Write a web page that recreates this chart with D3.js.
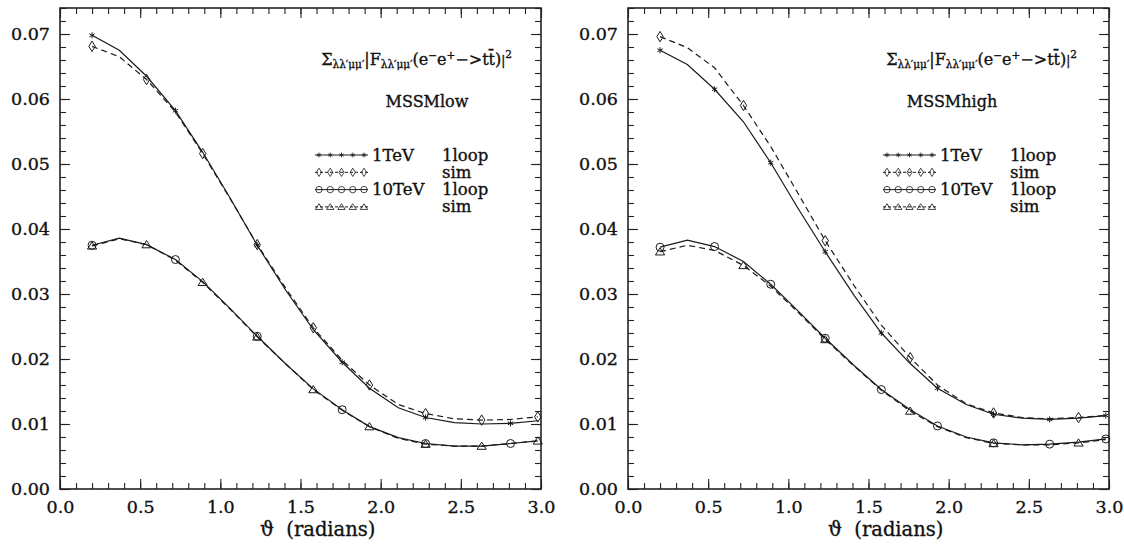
<!DOCTYPE html>
<html>
<head>
<meta charset="utf-8">
<script src="https://cdn.jsdelivr.net/npm/d3@7"></script>
<style>
body { margin: 0; background: #fff; }
svg { display: block; }
text { font-family: "DejaVu Serif", serif; fill: #111; stroke: #111; stroke-width: 0.35px; }
</style>
</head>
<body>
<svg id="chart" width="1124" height="544"></svg>
<script>
// scattering angle (radians)
const theta = [0.2, 0.37, 0.54, 0.72, 0.89, 1.06, 1.23, 1.41, 1.58, 1.76, 1.93, 2.11, 2.28, 2.46, 2.63, 2.81, 2.98];

// MSSMlow
const low1TeVLoop  = [0.0698, 0.0675, 0.0635, 0.0582, 0.0518, 0.0448, 0.0375, 0.0305, 0.0245, 0.0195, 0.0155, 0.0125, 0.0110, 0.0102, 0.0100, 0.0101, 0.0105];
const low1TeVSim   = [0.0681, 0.0665, 0.0630, 0.0580, 0.0516, 0.0447, 0.0376, 0.0308, 0.0248, 0.0198, 0.0160, 0.0130, 0.0116, 0.0108, 0.0106, 0.0107, 0.0111];
const low10TeVLoop = [0.0375, 0.0386, 0.0376, 0.0353, 0.0319, 0.0278, 0.0235, 0.0192, 0.0154, 0.0122, 0.0096, 0.0079, 0.0070, 0.0066, 0.0066, 0.0070, 0.0074];
const low10TeVSim  = [0.0374, 0.0385, 0.0376, 0.0352, 0.0318, 0.0277, 0.0234, 0.0192, 0.0153, 0.0121, 0.0096, 0.0078, 0.0069, 0.0066, 0.0066, 0.0070, 0.0074];

// MSSMhigh
const high1TeVLoop  = [0.0675, 0.0653, 0.0615, 0.0565, 0.0502, 0.0432, 0.0365, 0.0298, 0.0240, 0.0193, 0.0155, 0.0130, 0.0115, 0.0109, 0.0107, 0.0109, 0.0113];
const high1TeVSim   = [0.0696, 0.0679, 0.0648, 0.0590, 0.0527, 0.0455, 0.0382, 0.0313, 0.0252, 0.0202, 0.0160, 0.0131, 0.0117, 0.0110, 0.0108, 0.0110, 0.0113];
const high10TeVLoop = [0.0372, 0.0383, 0.0373, 0.0350, 0.0315, 0.0274, 0.0232, 0.0190, 0.0153, 0.0122, 0.0097, 0.0080, 0.0071, 0.0068, 0.0069, 0.0072, 0.0077];
const high10TeVSim  = [0.0365, 0.0375, 0.0367, 0.0344, 0.0312, 0.0272, 0.0230, 0.0189, 0.0152, 0.0120, 0.0096, 0.0079, 0.0070, 0.0068, 0.0068, 0.0071, 0.0076];

// which points carry a marker
const everyThird = [0, 3, 6, 9, 12, 15];
const everySecond = [0, 2, 4, 6, 8, 10, 12, 14, 16];

const legendEnergy = ['1TeV', '', '10TeV', ''];
const legendKind = ['1loop', 'sim', '1loop', 'sim'];

const xMajor = [0, 0.5, 1.0, 1.5, 2.0, 2.5, 3.0];
const yMajor = [0, 0.01, 0.02, 0.03, 0.04, 0.05, 0.06, 0.07];

const svg = d3.select('#chart');
const plotW = 481;
const yTop = 8, yBottom = 489;

const symbolPath = (type) => {
    if (type === 'star') return d3.symbol(d3.symbolAsterisk, 26)();
    if (type === 'diamond') return 'M0,-5.2L3.2,0L0,5.2L-3.2,0Z';
    if (type === 'circle') return 'M4,0A4,4 0 1,1 -4,0A4,4 0 1,1 4,0Z';
    return 'M0,-4L4.6,3.2L-4.6,3.2Z';
};

const panels = [
    {
        x0: 60, name: 'MSSMlow', nameX: 427, titleEnd: 512,
        series: [
            { vals: low1TeVLoop, sym: 'star', dash: null, marks: everyThird },
            { vals: low1TeVSim, sym: 'diamond', dash: '6,4', marks: everySecond },
            { vals: low10TeVLoop, sym: 'circle', dash: null, marks: everyThird },
            { vals: low10TeVSim, sym: 'triangle', dash: '6,4', marks: everySecond }
        ]
    },
    {
        x0: 628, name: 'MSSMhigh', nameX: 952, titleEnd: 1077,
        series: [
            { vals: high1TeVLoop, sym: 'star', dash: null, marks: everySecond },
            { vals: high1TeVSim, sym: 'diamond', dash: '6,4', marks: everyThird },
            { vals: high10TeVLoop, sym: 'circle', dash: null, marks: everySecond },
            { vals: high10TeVSim, sym: 'triangle', dash: '6,4', marks: everyThird }
        ]
    }
];

panels.forEach(p => {
    const x = d3.scaleLinear().domain([0, 3]).range([p.x0, p.x0 + plotW]);
    const y = d3.scaleLinear().domain([0, 0.074]).range([yBottom, yTop]);
    const g = svg.append('g');

    const xMinor = d3.range(0, 3.001, 0.1);
    const yMinor = d3.range(0, 0.0741, 0.002);

    const styleAxis = sel => {
        sel.select('.domain').remove();
        sel.selectAll('line').attr('stroke', '#222').attr('stroke-width', 1.1);
        sel.selectAll('text').style('font-size', '17.5px').attr('fill', '#111');
    };

    // bottom
    g.append('g').attr('transform', 'translate(0,' + yBottom + ')')
        .call(d3.axisBottom(x).tickValues(xMinor).tickSize(-6).tickFormat(''))
        .call(styleAxis);
    g.append('g').attr('transform', 'translate(0,' + yBottom + ')')
        .call(d3.axisBottom(x).tickValues(xMajor).tickSize(-10).tickPadding(12).tickFormat(d3.format('.1f')))
        .call(styleAxis);
    // top
    g.append('g').attr('transform', 'translate(0,' + yTop + ')')
        .call(d3.axisTop(x).tickValues(xMinor).tickSize(-6).tickFormat(''))
        .call(styleAxis);
    g.append('g').attr('transform', 'translate(0,' + yTop + ')')
        .call(d3.axisTop(x).tickValues(xMajor).tickSize(-10).tickFormat(''))
        .call(styleAxis);
    // left
    g.append('g').attr('transform', 'translate(' + p.x0 + ',0)')
        .call(d3.axisLeft(y).tickValues(yMinor).tickSize(-6).tickFormat(''))
        .call(styleAxis);
    g.append('g').attr('transform', 'translate(' + p.x0 + ',0)')
        .call(d3.axisLeft(y).tickValues(yMajor).tickSize(-10).tickPadding(10).tickFormat(d3.format('.2f')))
        .call(styleAxis);
    // right
    g.append('g').attr('transform', 'translate(' + (p.x0 + plotW) + ',0)')
        .call(d3.axisRight(y).tickValues(yMinor).tickSize(-6).tickFormat(''))
        .call(styleAxis);
    g.append('g').attr('transform', 'translate(' + (p.x0 + plotW) + ',0)')
        .call(d3.axisRight(y).tickValues(yMajor).tickSize(-10).tickFormat(''))
        .call(styleAxis);

    g.append('rect')
        .attr('x', p.x0).attr('y', yTop)
        .attr('width', plotW).attr('height', yBottom - yTop)
        .attr('fill', 'none').attr('stroke', '#222').attr('stroke-width', 1.6);

    const line = d3.line()
        .x((d, i) => x(theta[i]))
        .y(d => y(d));

    p.series.forEach(s => {
        g.append('path')
            .attr('d', line(s.vals))
            .attr('fill', 'none')
            .attr('stroke', '#1a1a1a')
            .attr('stroke-width', 1.2)
            .attr('stroke-dasharray', s.dash);
        g.selectAll(null)
            .data(s.marks)
            .enter()
            .append('path')
            .attr('d', symbolPath(s.sym))
            .attr('transform', i => 'translate(' + x(theta[i]) + ',' + y(s.vals[i]) + ')')
            .attr('fill', 'none')
            .attr('stroke', '#1a1a1a')
            .attr('stroke-width', 1);
    });

    // title formula
    const t = g.append('text')
        .attr('x', p.titleEnd).attr('y', 65)
        .attr('text-anchor', 'end')
        .style('font-size', '16px');
    const parts = [
        ['Σ', 0, 16], ['λλ′μμ′', 3, 10.5], ['|F', -3, 16], ['λλ′μμ′', 3, 10.5],
        ['(e', -3, 16], ['−', -6, 10.5], ['e', 6, 16], ['+', -6, 10.5],
        ['−>tt̄)', 6, 16], ['|', 0, 12], ['2', -7, 10.5]
    ];
    parts.forEach(d => {
        t.append('tspan').attr('dy', d[1]).style('font-size', d[2] + 'px').text(d[0]);
    });

    g.append('text')
        .attr('x', p.nameX).attr('y', 107)
        .attr('text-anchor', 'middle')
        .style('font-size', '16px')
        .text(p.name);

    // legend
    const lx = p.x0 + 255;
    p.series.forEach((s, k) => {
        const cy = 155 + k * 17.3;
        g.append('line')
            .attr('x1', lx).attr('x2', lx + 53)
            .attr('y1', cy).attr('y2', cy)
            .attr('stroke', '#1a1a1a').attr('stroke-width', 1)
            .attr('stroke-dasharray', s.dash ? '3,2' : null);
        g.selectAll(null)
            .data([0, 1, 2, 3, 4])
            .enter()
            .append('path')
            .attr('d', symbolPath(s.sym))
            .attr('transform', j => 'translate(' + (lx + 4 + j * 11.25) + ',' + cy + ') scale(0.8)')
            .attr('fill', 'none')
            .attr('stroke', '#1a1a1a')
            .attr('stroke-width', 1);
        g.append('text')
            .attr('x', p.x0 + 312).attr('y', cy + 5.5)
            .style('font-size', '16.5px')
            .text(legendEnergy[k]);
        g.append('text')
            .attr('x', p.x0 + 382).attr('y', cy + 5.5)
            .style('font-size', '16.5px')
            .text(legendKind[k]);
    });

    g.append('text')
        .attr('x', p.x0 + 200).attr('y', 536)
        .style('font-size', '19.5px')
        .style('white-space', 'pre')
        .text('ϑ  (radians)');
});
</script>
</body>
</html>
